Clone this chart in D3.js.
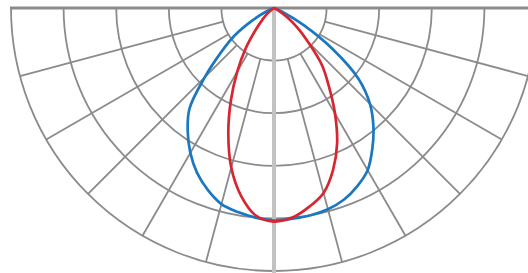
<!DOCTYPE html>
<html>
<head>
<meta charset="utf-8">
<script src="https://cdn.jsdelivr.net/npm/d3@7"></script>
<style>
  body { margin: 0; background: #fff; }
</style>
</head>
<body>
<div id="chart"></div>
<script>
// angles in degrees, 0 = straight down, positive = to the right
const angles = [-70, -65, -60, -55, -50, -45, -40, -35, -30, -25, -20, -15, -10, -5, 0,
                5, 10, 15, 20, 25, 30, 35, 40, 45, 50, 55, 60, 65, 70]
// intensity values (same units as the rings)
const blueValues = [0, 9, 24, 46, 66, 93, 125, 143, 159, 173, 184, 193, 197, 200, 202,
                    201, 200, 198, 194, 187, 178, 163, 147, 129, 105, 68, 33, 8, 0]
const redValues = [0, 0, 0, 2, 8, 15, 27, 47, 70, 97, 127, 157, 181, 198, 203,
                   200, 192, 182, 164, 142, 116, 91, 71, 46, 29, 15, 5, 0, 0]
const rings = [50, 100, 150, 200, 250]
const spokes = [-90, -75, -60, -45, -30, -15, 15, 30, 45, 60, 75, 90]

const width = 528
const height = 273
const cx = 274
const cy = 8
const R = 263

const svg = d3.select("#chart")
    .append("svg")
    .attr("width", width)
    .attr("height", height)

const g = svg.append("g")
    .attr("transform", `translate(${cx},${cy})`)

const r = d3.scaleLinear().domain([0, 250]).range([0, R])
const toRad = d => d * Math.PI / 180

const gridColor = "#8b8b8b"

// rings (lower half circles)
rings.forEach(v => {
    const p = d3.path()
    p.arc(0, 0, r(v), 0, Math.PI)
    g.append("path")
        .attr("d", p.toString())
        .attr("fill", "none")
        .attr("stroke", gridColor)
        .attr("stroke-width", 1.8)
})

// spokes start at the first ring
g.selectAll("line.spoke")
    .data(spokes)
    .enter().append("line")
    .attr("class", "spoke")
    .attr("x1", d => r(rings[0]) * Math.sin(toRad(d)))
    .attr("y1", d => r(rings[0]) * Math.cos(toRad(d)))
    .attr("x2", d => r(250) * Math.sin(toRad(d)))
    .attr("y2", d => r(250) * Math.cos(toRad(d)))
    .attr("stroke", gridColor)
    .attr("stroke-width", 1.8)

// top axis
g.append("line")
    .attr("x1", -r(250) - 1)
    .attr("x2", r(250) + 1)
    .attr("y1", 0)
    .attr("y2", 0)
    .attr("stroke", gridColor)
    .attr("stroke-width", 2.8)

// centre line
g.append("line")
    .attr("x1", 0)
    .attr("x2", 0)
    .attr("y1", 0)
    .attr("y2", r(250) + 2)
    .attr("stroke", "#c2c2c2")
    .attr("stroke-width", 4)

const radial = d3.lineRadial()
    .angle(d => Math.PI - toRad(d[0]))
    .radius(d => r(d[1]))
    .curve(d3.curveCatmullRom.alpha(0.5))

g.append("path")
    .datum(angles.map((a, i) => [a, blueValues[i]]))
    .attr("d", radial)
    .attr("fill", "none")
    .attr("stroke", "#1a78c2")
    .attr("stroke-width", 2.7)

g.append("path")
    .datum(angles.map((a, i) => [a, redValues[i]]))
    .attr("d", radial)
    .attr("fill", "none")
    .attr("stroke", "#d92530")
    .attr("stroke-width", 2.7)
</script>
</body>
</html>
